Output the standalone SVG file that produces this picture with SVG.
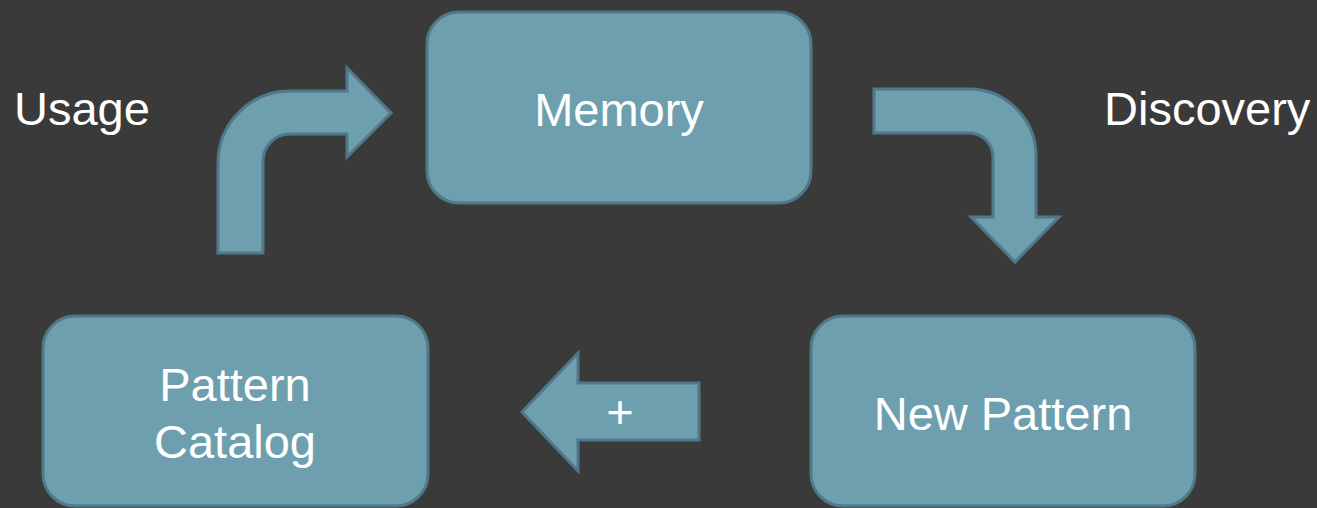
<svg xmlns="http://www.w3.org/2000/svg" width="1317" height="508" viewBox="0 0 1317 508">
<style>
.box{fill:#6d9faf;stroke:#507888;stroke-width:3}
.arrow{fill:#6d9faf;stroke:#507888;stroke-width:3;stroke-linejoin:miter}
.t{font-family:"Liberation Sans",Arial,sans-serif;font-size:47px;fill:#ffffff;text-anchor:middle}
.lbl{font-family:"Liberation Sans",Arial,sans-serif;font-size:47px;fill:#ffffff}
</style>
<rect x="0" y="0" width="1317" height="508" fill="#3a3a3a"/>
<g id="connectors">
<path class="arrow" d="M218,253 L218,163 A72,72 0 0 1 290,91 L347,91 L347,68 L391,113 L347,157 L347,134 L290,134 A27,27 0 0 0 263,161 L263,253 Z"/>
<path class="arrow" d="M874,89 L969,89 A67,67 0 0 1 1036,156 L1036,217 L1059,217 L1015,262 L971,217 L993,217 L993,157 A24,24 0 0 0 969,133 L874,133 Z"/>
<path class="arrow" d="M522,412 L578,353 L578,383 L699,383 L699,440 L578,440 L578,471 Z"/>
<text class="t" x="620" y="428">+</text>
</g>
<g id="usage-label"><text class="lbl" x="14" y="125">Usage</text></g>
<g id="discovery-label"><text class="lbl" x="1104" y="125">Discovery</text></g>
<g id="memory">
<rect class="box" x="427" y="12" width="384" height="191" rx="32" ry="32"/>
<text class="t" x="619" y="126">Memory</text>
</g>
<g id="pattern-catalog">
<rect class="box" x="43" y="316" width="385" height="190" rx="32" ry="32"/>
<text class="t" x="235" y="401">Pattern</text>
<text class="t" x="235" y="458">Catalog</text>
</g>
<g id="new-pattern">
<rect class="box" x="811" y="316" width="384" height="190" rx="32" ry="32"/>
<text class="t" x="1003" y="430">New Pattern</text>
</g>
</svg>
